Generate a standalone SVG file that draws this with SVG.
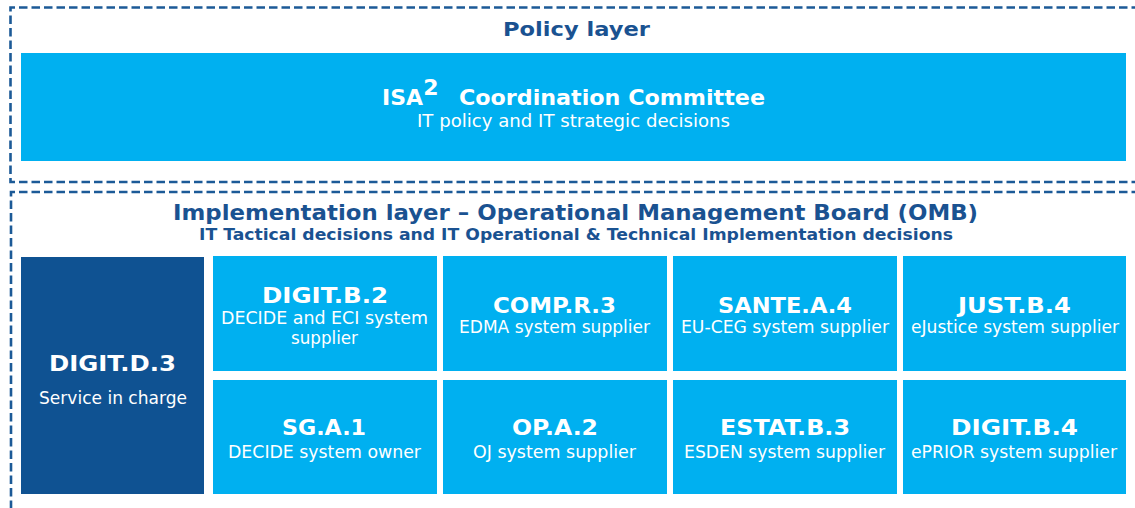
<svg xmlns="http://www.w3.org/2000/svg" width="1135" height="508" viewBox="0 0 1135 508">
<style>
.dash{fill:none;stroke:#1c5a97;stroke-width:2.6;stroke-dasharray:8.5 4}
.lt{fill:#00b0f0}
.dk{fill:#0f5292}
.hd{font-family:"DejaVu Sans",Verdana,sans-serif;font-weight:bold;fill:#1a5291;text-anchor:middle}
.t{font-family:"DejaVu Sans",Verdana,sans-serif;font-weight:bold;fill:#fff;text-anchor:middle;font-size:22px}
.s{font-family:"DejaVu Sans",Verdana,sans-serif;fill:#fff;text-anchor:middle;font-size:17.5px}
</style>
<rect width="1135" height="508" fill="#fff"/>
<g id="policy-layer">
<path class="dash" d="M1140 7.5 H10.5 V182 H1140"/>
<text class="hd" x="576.5" y="36" font-size="20" textLength="147" lengthAdjust="spacingAndGlyphs">Policy layer</text>
</g>
<g id="isa2">
<rect class="lt" x="21" y="53" width="1105" height="108"/>
<text class="t" x="402.5" y="105" textLength="41" lengthAdjust="spacingAndGlyphs">ISA</text>
<text class="t" x="431" y="95" font-size="13">2</text>
<text class="t" x="612" y="105" textLength="306" lengthAdjust="spacingAndGlyphs">Coordination Committee</text>
<text class="s" x="573.5" y="127" textLength="313" lengthAdjust="spacingAndGlyphs">IT policy and IT strategic decisions</text>
</g>
<g id="implementation-layer">
<path class="dash" d="M1140 192 H11 V512"/>
<text class="hd" x="575.5" y="220" font-size="22" textLength="805" lengthAdjust="spacingAndGlyphs">Implementation layer – Operational Management Board (OMB)</text>
<text class="hd" x="576" y="240" font-size="16.5" textLength="754" lengthAdjust="spacingAndGlyphs">IT Tactical decisions and IT Operational &amp; Technical Implementation decisions</text>
</g>
<g id="digit-d3">
<rect class="dk" x="21" y="257" width="183" height="237"/>
<text class="t" x="112.5" y="371" font-size="23" textLength="127" lengthAdjust="spacingAndGlyphs">DIGIT.D.3</text>
<text class="s" x="113" y="404" textLength="148" lengthAdjust="spacingAndGlyphs">Service in charge</text>
</g>
<g id="digit-b2">
<rect class="lt" x="213" y="256" width="224" height="115"/>
<text class="t" x="325" y="303" textLength="126" lengthAdjust="spacingAndGlyphs">DIGIT.B.2</text>
<text class="s" x="324.5" y="324" textLength="207" lengthAdjust="spacingAndGlyphs">DECIDE and ECI system</text>
<text class="s" x="324.5" y="344" textLength="67" lengthAdjust="spacingAndGlyphs">supplier</text>
</g>
<g id="comp-r3">
<rect class="lt" x="443" y="256" width="224" height="115"/>
<text class="t" x="554.5" y="313" textLength="123" lengthAdjust="spacingAndGlyphs">COMP.R.3</text>
<text class="s" x="554.5" y="333" textLength="191" lengthAdjust="spacingAndGlyphs">EDMA system supplier</text>
</g>
<g id="sante-a4">
<rect class="lt" x="673" y="256" width="224" height="115"/>
<text class="t" x="785" y="313" textLength="134" lengthAdjust="spacingAndGlyphs">SANTE.A.4</text>
<text class="s" x="785" y="333" textLength="208" lengthAdjust="spacingAndGlyphs">EU-CEG system supplier</text>
</g>
<g id="just-b4">
<rect class="lt" x="903" y="256" width="223" height="115"/>
<text class="t" x="1014.5" y="313" textLength="113" lengthAdjust="spacingAndGlyphs">JUST.B.4</text>
<text class="s" x="1015" y="333" textLength="208" lengthAdjust="spacingAndGlyphs">eJustice system supplier</text>
</g>
<g id="sg-a1">
<rect class="lt" x="213" y="380" width="224" height="114"/>
<text class="t" x="324" y="435" textLength="84" lengthAdjust="spacingAndGlyphs">SG.A.1</text>
<text class="s" x="324.5" y="458" textLength="193" lengthAdjust="spacingAndGlyphs">DECIDE system owner</text>
</g>
<g id="op-a2">
<rect class="lt" x="443" y="380" width="224" height="114"/>
<text class="t" x="555" y="435" textLength="86" lengthAdjust="spacingAndGlyphs">OP.A.2</text>
<text class="s" x="554.5" y="458" textLength="163" lengthAdjust="spacingAndGlyphs">OJ system supplier</text>
</g>
<g id="estat-b3">
<rect class="lt" x="673" y="380" width="224" height="114"/>
<text class="t" x="785" y="435" textLength="130" lengthAdjust="spacingAndGlyphs">ESTAT.B.3</text>
<text class="s" x="784.5" y="458" textLength="201" lengthAdjust="spacingAndGlyphs">ESDEN system supplier</text>
</g>
<g id="digit-b4">
<rect class="lt" x="903" y="380" width="223" height="114"/>
<text class="t" x="1014.5" y="435" textLength="127" lengthAdjust="spacingAndGlyphs">DIGIT.B.4</text>
<text class="s" x="1014" y="458" textLength="206" lengthAdjust="spacingAndGlyphs">ePRIOR system supplier</text>
</g>
<g id="connectors"></g>
</svg>
